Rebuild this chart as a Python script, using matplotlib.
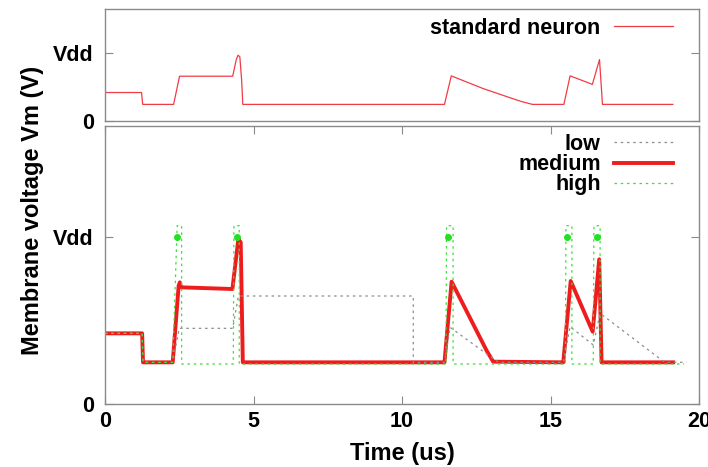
import matplotlib
matplotlib.use("Agg")
import matplotlib.pyplot as plt

# ---------------- data (Vdd normalised to 1) ----------------
xticks = [0, 5, 10, 15, 20]
ytick_vals = [0, 1]
ytick_labels = ["0", "Vdd"]

# standard neuron (top panel)
std_t = [0, 1.23, 1.27, 2.31, 2.51, 4.30, 4.42, 4.48, 4.54, 4.60, 4.64,
         11.43, 11.66, 12.72, 13.49, 14.0, 14.39, 15.45, 15.66, 16.41,
         16.65, 16.75, 19.12]
std_v = [0.415, 0.415, 0.24, 0.24, 0.655, 0.655, 0.90, 0.965, 0.94, 0.60, 0.24,
         0.24, 0.66, 0.475, 0.36, 0.285, 0.24, 0.24, 0.66, 0.535,
         0.90, 0.24, 0.24]

# medium
med_t = [0, 1.25, 1.28, 2.28, 2.48, 2.52, 2.56, 4.29, 4.49, 4.57, 4.64,
         11.43, 11.67, 12.85, 13.07, 15.43, 15.68, 16.42, 16.64, 16.72, 19.13]
med_v = [0.424, 0.424, 0.25, 0.25, 0.71, 0.73, 0.70, 0.69, 0.99, 0.97, 0.25,
         0.25, 0.734, 0.32, 0.254, 0.25, 0.738, 0.434, 0.868, 0.25, 0.25]

# low
low_t = [0, 1.25, 1.28, 2.28, 2.50, 4.30, 4.49, 10.38, 10.38, 11.43, 11.62,
         12.90, 13.25, 15.43, 15.66, 16.44, 16.67, 18.74, 18.85, 19.58]
low_v = [0.424, 0.424, 0.25, 0.25, 0.454, 0.454, 0.648, 0.648, 0.25, 0.25, 0.46,
         0.294, 0.25, 0.25, 0.464, 0.354, 0.544, 0.264, 0.25, 0.25]

# high
high_t = [0, 1.25, 1.28, 2.28, 2.43, 2.58, 2.58, 4.32, 4.34, 4.52, 4.52,
          11.48, 11.50, 11.72, 11.72, 15.50, 15.52, 15.72, 15.72,
          16.44, 16.46, 16.67, 16.67, 19.50]
high_v = [0.424, 0.424, 0.25, 0.25, 1.07, 1.07, 0.24, 0.24, 1.07, 1.07, 0.24,
          0.24, 1.07, 1.07, 0.24, 0.24, 1.07, 1.07, 0.24,
          0.24, 1.07, 1.07, 0.24, 0.24]
high_dot_t = [2.43, 4.43, 11.56, 15.57, 16.55]
high_dot_v = [1.0, 1.0, 1.0, 1.0, 1.0]

# ---------------- style ----------------
plt.rcParams["font.family"] = ["Liberation Sans", "DejaVu Sans"]
plt.rcParams["font.weight"] = "bold"
plt.rcParams["font.size"] = 15.5

FS = 15.5
FS_LAB = 17
FRAME = "#8a8a8a"
W, H = 708, 467
fig = plt.figure(figsize=(W / 100, H / 100), dpi=100)
L, R = 105, 699
ax1 = fig.add_axes([L / W, 1 - 120.7 / H, (R - L) / W, 111.4 / H])
ax2 = fig.add_axes([L / W, 1 - 404 / H, (R - L) / W, 278 / H])

for ax in (ax1, ax2):
    for s in ax.spines.values():
        s.set_color(FRAME)
        s.set_linewidth(1.0)
    ax.set_xlim(0, 20)
    ax.set_yticks(ytick_vals)
    ax.set_yticklabels(ytick_labels)
    ax.tick_params(axis="both", direction="in", length=5.5, width=0.8,
                   color=FRAME, pad=8, labelsize=FS)
    ax.tick_params(axis="y", right=True)

ax1.set_ylim(0, 1.64)
ax1.set_xticks([])
ax2.set_ylim(0, 1.668)
ax2.set_xticks(xticks)
ax2.set_xticklabels([str(v) for v in xticks])
ax2.tick_params(axis="x", top=True, bottom=True, pad=5)

# top panel
l_std, = ax1.plot(std_t, std_v, color="#f03c46", lw=0.9, label="standard neuron")
ax1.legend(handles=[l_std], markerfirst=False, frameon=False, loc="upper right",
           bbox_to_anchor=(0.956, 0.925), borderaxespad=0, borderpad=0,
           handlelength=2.75, handletextpad=0.6, fontsize=FS)

# bottom panel
l_med, = ax2.plot(med_t, med_v, color="#ee1c1c", lw=2.8, label="medium", zorder=2)
l_low, = ax2.plot(low_t, low_v, color="#8c8c8c", lw=0.9, ls=(0, (2, 3)),
                  label="low", zorder=3)
l_high, = ax2.plot(high_t, high_v, color="#3ce03c", lw=0.9, ls=(0, (2, 3)),
                   label="high", zorder=4)
ax2.plot(high_dot_t, high_dot_v, ls="none", marker="o", ms=4,
         color="#22e022", zorder=5)
ax2.legend(handles=[l_low, l_med, l_high], markerfirst=False, frameon=False,
           loc="upper right", bbox_to_anchor=(0.956, 0.972), borderaxespad=0,
           borderpad=0, handlelength=2.75, handletextpad=0.6,
           labelspacing=-0.03, fontsize=FS)

ax2.set_xlabel("Time (us)", labelpad=7, fontsize=FS_LAB, fontweight="bold")
fig.text(33 / W, 1 - 210 / H, "Membrane voltage Vm (V)", rotation=90,
         ha="center", va="center", fontsize=FS_LAB, fontweight="bold")

fig.savefig("out.png", dpi=100)
